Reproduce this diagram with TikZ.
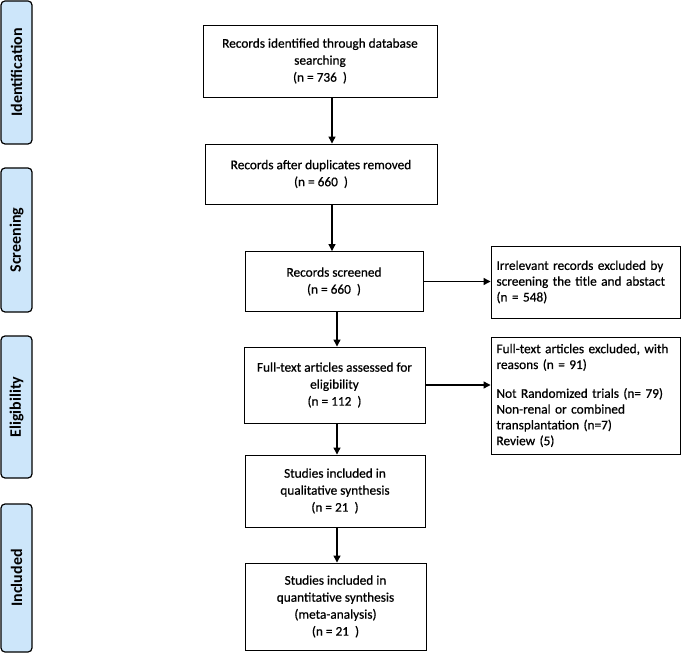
\documentclass[tikz,border=0pt]{standalone}
\usepackage{fontspec}
\setmainfont{Carlito}[FakeBold=0.6]
\newfontfamily\phasefont{Carlito}[BoldFont={Carlito Bold}]
\usetikzlibrary{arrows.meta}
\definecolor{phasefill}{RGB}{205,230,250}
\tikzset{
  phase/.style={draw=black, line width=1.2pt, fill=phasefill, rounded corners=4pt,
    minimum width=31pt, inner sep=0pt, font=\phasefont\bfseries\fontsize{16}{18}\selectfont},
  mainbox/.style={draw=black, line width=0.9pt, align=center, inner sep=0pt,
    font=\fontsize{13.3}{17}\selectfont},
  sidebox/.style={draw=black, line width=0.9pt, align=left, inner sep=0pt,
    font=\fontsize{13.3}{15.8}\selectfont},
  conn/.style={line width=1.2pt, -{Triangle[length=7pt,width=7pt]}}
}
\begin{document}
\begin{tikzpicture}[x=1pt,y=-1pt]
\useasboundingbox (0,0) rectangle (685,660);
% phase labels
\node[phase, minimum height=143pt] (pid) at (16.5,72.5) {\rotatebox{90}{Identification}};
\node[phase, minimum height=144pt] (psc) at (16.5,240) {\rotatebox{90}{Screening}};
\node[phase, minimum height=142pt] (pel) at (16.5,407) {\rotatebox{90}{Eligibility}};
\node[phase, minimum height=148pt] (pin) at (16.5,578) {\rotatebox{90}{Included}};
% main boxes
\node[mainbox, minimum width=234pt, minimum height=72pt] (b1) at (320,61)
  {Records identified through database\\searching\\(n = 736~~)};
\node[mainbox, minimum width=232pt, minimum height=60pt] (b2) at (321,174)
  {Records after duplicates removed\\(n = 660~~)};
\node[mainbox, minimum width=178pt, minimum height=60pt] (b3) at (334,281.5)
  {Records screened\\(n = 660~~)};
\node[mainbox, minimum width=181pt, minimum height=76pt] (b4) at (334.5,385)
  {Full-text articles assessed for\\eligibility\\(n = 112~~)};
\node[mainbox, minimum width=180pt, minimum height=72pt] (b5) at (335,491)
  {Studies included in\\qualitative synthesis\\(n = 21~~)};
\node[mainbox, minimum width=181pt, minimum height=87pt] (b6) at (335.5,606.5)
  {Studies included in\\quantitative synthesis\\(meta-analysis)\\(n = 21~~)};
% side boxes
\node[sidebox, minimum width=189pt, minimum height=72pt, text width=178pt] (r1) at (585.5,282)
  {Irrelevant records excluded by\\screening the title and abstact\\(n = 548)};
\node[sidebox, minimum width=189pt, minimum height=117pt, text width=178pt] (r2) at (585.5,395.5)
  {Full-text articles excluded, with\\reasons (n = 91)\\[13pt]Not Randomized trials (n= 79)\\Non-renal or combined\\transplantation (n=7)\\Review (5)};
% connector x positions
\coordinate (ax1) at (332,0);
\coordinate (ax2) at (337,0);
\draw[conn] (b1.south -| ax1) -- (b2.north -| ax1);
\draw[conn] (b2.south -| ax1) -- (b3.north -| ax1);
\draw[conn] (b3.south -| ax2) -- (b4.north -| ax2);
\draw[conn] (b4.south -| ax2) -- (b5.north -| ax2);
\draw[conn] (b5.south -| ax2) -- (b6.north -| ax2);
\draw[conn] (b3.east) -- (b3.east -| r1.west);
\draw[conn] (b4.east) -- (b4.east -| r2.west);
\end{tikzpicture}
\end{document}
